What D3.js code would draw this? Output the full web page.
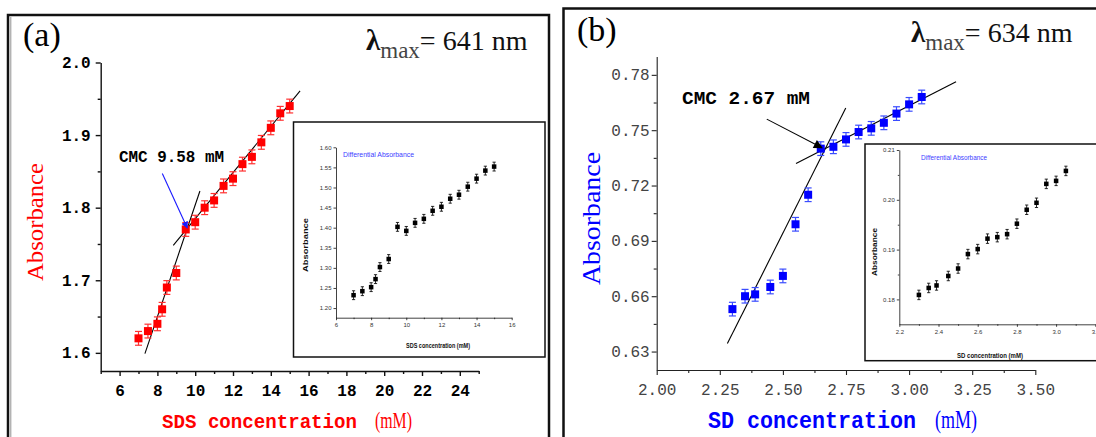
<!DOCTYPE html>
<html>
<head>
<meta charset="utf-8">
<script src="https://cdn.jsdelivr.net/npm/d3@7"></script>
<style>
body { margin: 0; background: #fff; }
svg { display: block; }
</style>
</head>
<body>
<script>
var w = 1096;
var h = 437;

// panel (a) - SDS
var sdsConc = [7, 7.5, 8, 8.25, 8.5, 9, 9.5, 10, 10.5, 11, 11.5, 12, 12.5, 13, 13.5, 14, 14.5, 15];
var sdsAbs = [1.62, 1.63, 1.64, 1.66, 1.69, 1.71, 1.77, 1.78, 1.80, 1.81, 1.83, 1.84, 1.86, 1.87, 1.89, 1.91, 1.93, 1.94];
var sdsDiff = [1.232, 1.242, 1.252, 1.272, 1.302, 1.322, 1.402, 1.392, 1.412, 1.422, 1.442, 1.452, 1.472, 1.482, 1.502, 1.522, 1.542, 1.552];
var sdsErr = 0.0095;
var sdsDiffErr = 0.011;
var sdsFitLow = [[7.34, 1.599], [10.25, 1.823]];
var sdsFitHigh = [[8.84, 1.748], [15.55, 1.961]];
var sdsArrow = [[8.26, 1.847], [9.58, 1.772]];

var sdsXTicks = [6, 8, 10, 12, 14, 16, 18, 20, 22, 24];
var sdsXMinor = [5, 7, 9, 11, 13, 15, 17, 19, 21, 23, 25];
var sdsYTicks = [1.6, 1.7, 1.8, 1.9, 2.0];
var sdsYMinor = [1.65, 1.75, 1.85, 1.95];
var sdsInXTicks = [6, 8, 10, 12, 14, 16];
var sdsInXMinor = [7, 9, 11, 13, 15];
var sdsInYTicks = [1.20, 1.25, 1.30, 1.35, 1.40, 1.45, 1.50, 1.55, 1.60];

// panel (b) - SD
var sdConc = [2.30, 2.35, 2.39, 2.45, 2.50, 2.55, 2.60, 2.65, 2.70, 2.75, 2.80, 2.85, 2.90, 2.95, 3.00, 3.05];
var sdAbs = [0.653, 0.660, 0.661, 0.665, 0.671, 0.699, 0.715, 0.740, 0.741, 0.745, 0.749, 0.751, 0.754, 0.759, 0.764, 0.768];
var sdDiff = [0.1809, 0.1823, 0.1828, 0.1847, 0.1862, 0.1891, 0.1901, 0.1922, 0.1925, 0.1931, 0.1952, 0.1980, 0.1994, 0.2032, 0.2038, 0.2058];
var sdErr = 0.0037;
var sdDiffErr = 0.00095;
var sdFitLow = [[2.28, 0.6343], [2.749, 0.762]];
var sdFitHigh = [[2.552, 0.732], [3.186, 0.7762]];
var sdArrow = [[2.436, 0.756], [2.655, 0.7405]];

var sdXTicks = [2.00, 2.25, 2.50, 2.75, 3.00, 3.25, 3.50];
var sdXMinor = [2.125, 2.375, 2.625, 2.875, 3.125, 3.375];
var sdYTicks = [0.63, 0.66, 0.69, 0.72, 0.75, 0.78];
var sdYMinor = [0.645, 0.675, 0.705, 0.735, 0.765];
var sdInXTicks = [2.2, 2.4, 2.6, 2.8, 3.0, 3.2];
var sdInXMinor = [2.3, 2.5, 2.7, 2.9, 3.1];
var sdInYTicks = [0.18, 0.19, 0.20, 0.21];
var sdInYMinor = [0.185, 0.195, 0.205];

var svg = d3.select('body').append('svg').attr('width', w).attr('height', h);

var defs = svg.append('defs');
defs.append('marker').attr('id', 'arrBlue')
    .attr('viewBox', '0 0 10 10').attr('refX', 9).attr('refY', 5)
    .attr('markerWidth', 7).attr('markerHeight', 7).attr('markerUnits', 'userSpaceOnUse')
    .attr('orient', 'auto')
    .append('path').attr('d', 'M0,0 L10,5 L0,10 z').attr('fill', '#1a1aff');
defs.append('marker').attr('id', 'arrBlack')
    .attr('viewBox', '0 0 10 10').attr('refX', 9).attr('refY', 5)
    .attr('markerWidth', 11).attr('markerHeight', 9).attr('markerUnits', 'userSpaceOnUse')
    .attr('orient', 'auto')
    .append('path').attr('d', 'M0,0 L10,5 L0,10 z').attr('fill', '#000');

// panel frames
svg.append('rect').attr('x', 8).attr('y', 15).attr('width', 541).attr('height', 440)
    .attr('fill', 'none').attr('stroke', '#111').attr('stroke-width', 2.5);
svg.append('line').attr('x1', 10.8).attr('x2', 10.8).attr('y1', 17).attr('y2', 437)
    .attr('stroke', '#777').attr('stroke-width', 0.8);
svg.append('rect').attr('x', 563.5).attr('y', 8.5).attr('width', 560).attr('height', 440)
    .attr('fill', 'none').attr('stroke', '#111').attr('stroke-width', 2.5);

function drawAxes(g, x, y, o) {
    var y0 = y.range()[0], x0 = x.range()[0];
    var gx = g.append('g').attr('transform', 'translate(0,' + y0 + ')')
        .call(d3.axisBottom(x).tickValues(o.xt).tickFormat(o.xf).tickSize(o.ts).tickSizeOuter(0).tickPadding(o.xp));
    var gy = g.append('g').attr('transform', 'translate(' + x0 + ',0)')
        .call(d3.axisLeft(y).tickValues(o.yt).tickFormat(o.yf).tickSize(o.ts).tickSizeOuter(0).tickPadding(o.yp));
    [gx, gy].forEach(function(a) {
        a.attr('font-family', o.font).attr('font-size', o.fs).attr('font-weight', o.fw);
        a.selectAll('text').attr('fill', o.tc);
        a.selectAll('path, line').attr('stroke', o.lc).attr('stroke-width', o.lw);
    });
    if (o.xm) {
        var mx = g.append('g').attr('transform', 'translate(0,' + y0 + ')')
            .call(d3.axisBottom(x).tickValues(o.xm).tickFormat('').tickSize(o.ms).tickSizeOuter(0));
        mx.select('.domain').remove();
        mx.selectAll('line').attr('stroke', o.lc).attr('stroke-width', o.lw);
    }
    if (o.ym) {
        var my = g.append('g').attr('transform', 'translate(' + x0 + ',0)')
            .call(d3.axisLeft(y).tickValues(o.ym).tickFormat('').tickSize(o.ms).tickSizeOuter(0));
        my.select('.domain').remove();
        my.selectAll('line').attr('stroke', o.lc).attr('stroke-width', o.lw);
    }
}

function drawPoints(g, xs, ys, err, x, y, o) {
    var data = xs.map(function(c, i) { return {c: c, v: ys[i]}; });
    var bars = g.selectAll(null).data(data).enter().append('g')
        .attr('stroke', o.ec).attr('stroke-width', o.ew);
    bars.append('line')
        .attr('x1', function(d) { return x(d.c); }).attr('x2', function(d) { return x(d.c); })
        .attr('y1', function(d) { return y(d.v - err); }).attr('y2', function(d) { return y(d.v + err); });
    bars.append('line')
        .attr('x1', function(d) { return x(d.c) - o.cap; }).attr('x2', function(d) { return x(d.c) + o.cap; })
        .attr('y1', function(d) { return y(d.v - err); }).attr('y2', function(d) { return y(d.v - err); });
    bars.append('line')
        .attr('x1', function(d) { return x(d.c) - o.cap; }).attr('x2', function(d) { return x(d.c) + o.cap; })
        .attr('y1', function(d) { return y(d.v + err); }).attr('y2', function(d) { return y(d.v + err); });
    g.selectAll(null).data(data).enter().append('rect')
        .attr('x', function(d) { return x(d.c) - o.size / 2; })
        .attr('y', function(d) { return y(d.v) - o.size / 2; })
        .attr('width', o.size).attr('height', o.size)
        .attr('fill', o.mc);
}

function drawLine(g, pts, x, y, color, marker) {
    var l = g.append('line')
        .attr('x1', x(pts[0][0])).attr('y1', y(pts[0][1]))
        .attr('x2', x(pts[1][0])).attr('y2', y(pts[1][1]))
        .attr('stroke', color).attr('stroke-width', 1.1);
    if (marker) l.attr('marker-end', 'url(#' + marker + ')');
}

function lambdaLabel(x, y, nm) {
    var t = svg.append('text').attr('x', x).attr('y', y)
        .attr('font-family', 'Liberation Serif').attr('fill', '#111');
    t.append('tspan').attr('font-size', 29).attr('font-weight', 'bold').text('\u03bb');
    t.append('tspan').attr('font-size', 23).attr('dy', 8).attr('fill', '#444').text('max');
    t.append('tspan').attr('font-size', 28).attr('dy', -8).text('= ' + nm + ' nm');
}

// axis title: bold mono words, then a lighter serif "(mM)"
function xTitle(words, x0, x1, u0, u1, size, color) {
    svg.append('text').attr('x', x0).attr('y', 428)
        .attr('font-family', 'Liberation Mono').attr('font-weight', 'bold').attr('font-size', size)
        .attr('fill', color).attr('textLength', x1 - x0).attr('lengthAdjust', 'spacingAndGlyphs')
        .text(words);
    svg.append('text').attr('x', u0).attr('y', 428)
        .attr('font-family', 'Liberation Serif').attr('font-size', size + 2)
        .attr('fill', color).attr('textLength', u1 - u0).attr('lengthAdjust', 'spacingAndGlyphs')
        .text('(mM)');
}

function inset(box, x, y, xs, ys, err, o) {
    svg.append('rect').attr('x', box[0]).attr('y', box[1]).attr('width', box[2]).attr('height', box[3])
        .attr('fill', '#fff').attr('stroke', '#111').attr('stroke-width', 1.5);
    var g = svg.append('g');
    drawAxes(g, x, y, {
        xt: o.xt, xm: o.xm, yt: o.yt, ym: o.ym, xf: o.xf, yf: o.yf,
        ts: 2.5, ms: 1.5, xp: 3, yp: 2, font: 'Liberation Sans', fs: 6, fw: 'normal',
        tc: '#333', lc: '#111', lw: 0.8
    });
    drawPoints(g, xs, ys, err, x, y, {ec: '#111', ew: 0.9, cap: 1.6, size: 4.5, mc: '#000'});
    svg.append('text').attr('x', o.dx).attr('y', o.dy)
        .attr('font-family', 'Liberation Sans').attr('font-size', 7).attr('fill', '#4040ff')
        .attr('textLength', o.dl).attr('lengthAdjust', 'spacingAndGlyphs')
        .text('Differential Absorbance');
    svg.append('text').attr('transform', 'translate(' + o.ax + ',' + o.ay + ') rotate(-90)')
        .attr('text-anchor', 'middle').attr('font-family', 'Liberation Sans').attr('font-weight', 'bold')
        .attr('font-size', 8).attr('fill', '#111')
        .attr('textLength', o.al).attr('lengthAdjust', 'spacingAndGlyphs')
        .text('Absorbance');
    svg.append('text').attr('x', o.tx).attr('y', o.ty).attr('text-anchor', 'middle')
        .attr('font-family', 'Liberation Sans').attr('font-weight', 'bold').attr('font-size', 6.5)
        .attr('fill', '#111').attr('textLength', o.tl).attr('lengthAdjust', 'spacingAndGlyphs')
        .text(o.title);
}

// ---------- panel (a) ----------
var xA = d3.scaleLinear().domain([5, 25]).range([100.7, 478.7]);
var yA = d3.scaleLinear().domain([1.575, 2.0]).range([371, 62.5]);
var gA = svg.append('g');

drawAxes(gA, xA, yA, {
    xt: sdsXTicks, xm: sdsXMinor, yt: sdsYTicks, ym: sdsYMinor,
    xf: d3.format('d'), yf: d3.format('.1f'),
    ts: 5, ms: 3, xp: 9, yp: 5, font: 'Liberation Mono', fs: 16, fw: 'bold',
    tc: '#000', lc: '#111', lw: 1.4
});
drawLine(gA, sdsFitLow, xA, yA, '#000');
drawLine(gA, sdsFitHigh, xA, yA, '#000');
drawPoints(gA, sdsConc, sdsAbs, sdsErr, xA, yA, {ec: '#ff3030', ew: 1.2, cap: 3.5, size: 8, mc: '#ff0000'});
drawLine(gA, sdsArrow, xA, yA, '#1a1aff', 'arrBlue');

svg.append('text').attr('x', 119).attr('y', 162)
    .attr('font-family', 'Liberation Mono').attr('font-weight', 'bold').attr('font-size', 16)
    .attr('textLength', 105).attr('lengthAdjust', 'spacingAndGlyphs')
    .text('CMC 9.58 mM');
svg.append('text').attr('x', 23).attr('y', 46)
    .attr('font-family', 'Liberation Serif').attr('font-size', 34).text('(a)');
lambdaLabel(366, 50, '641');

xTitle('SDS concentration', 162, 357, 375, 412, 21, '#ff0000');

svg.append('text').attr('transform', 'translate(43,222) rotate(-90)')
    .attr('text-anchor', 'middle').attr('font-family', 'Liberation Serif').attr('font-size', 23)
    .attr('fill', '#ff0000').attr('textLength', 118).attr('lengthAdjust', 'spacingAndGlyphs')
    .text('Absorbance');

inset([293.5, 122, 251.5, 235],
    d3.scaleLinear().domain([6, 16]).range([336, 511.7]),
    d3.scaleLinear().domain([1.176, 1.60]).range([317.7, 147.3]),
    sdsConc, sdsDiff, sdsDiffErr, {
        xt: sdsInXTicks, xm: sdsInXMinor, yt: sdsInYTicks, ym: null,
        xf: d3.format('d'), yf: d3.format('.2f'),
        dx: 343, dy: 157, dl: 71, ax: 308, ay: 245, al: 54,
        tx: 438, ty: 348, tl: 64, title: 'SDS concentration (mM)'
    });

// ---------- panel (b) ----------
var xB = d3.scaleLinear().domain([2, 3.5]).range([656.7, 1035.3]);
var yB = d3.scaleLinear().domain([0.62, 0.79]).range([370, 56.4]);
var gB = svg.append('g');

drawAxes(gB, xB, yB, {
    xt: sdXTicks, xm: sdXMinor, yt: sdYTicks, ym: sdYMinor,
    xf: d3.format('.2f'), yf: d3.format('.2f'),
    ts: 5, ms: 3, xp: 9, yp: 2, font: 'Liberation Mono', fs: 16, fw: 'normal',
    tc: '#444', lc: '#222', lw: 1.1
});
drawLine(gB, sdFitLow, xB, yB, '#000');
drawLine(gB, sdFitHigh, xB, yB, '#000');
drawPoints(gB, sdConc, sdAbs, sdErr, xB, yB, {ec: '#3a4cff', ew: 1.2, cap: 3.5, size: 8, mc: '#0000ff'});
drawLine(gB, sdArrow, xB, yB, '#000', 'arrBlack');

svg.append('text').attr('x', 682).attr('y', 104)
    .attr('font-family', 'Liberation Mono').attr('font-weight', 'bold').attr('font-size', 19)
    .attr('textLength', 128).attr('lengthAdjust', 'spacingAndGlyphs')
    .text('CMC 2.67 mM');
svg.append('text').attr('x', 577).attr('y', 41)
    .attr('font-family', 'Liberation Serif').attr('font-size', 34).text('(b)');
lambdaLabel(911, 42, '634');

xTitle('SD concentration', 708, 916, 935, 977, 24, '#0000ff');

svg.append('text').attr('transform', 'translate(600,218.5) rotate(-90)')
    .attr('text-anchor', 'middle').attr('font-family', 'Liberation Serif').attr('font-size', 26)
    .attr('fill', '#0000ff').attr('textLength', 133).attr('lengthAdjust', 'spacingAndGlyphs')
    .text('Absorbance');

inset([865, 144, 260, 216.7],
    d3.scaleLinear().domain([2.2, 3.2]).range([899.3, 1095.3]),
    d3.scaleLinear().domain([0.175, 0.21]).range([324.3, 150]),
    sdConc, sdDiff, sdDiffErr, {
        xt: sdInXTicks, xm: sdInXMinor, yt: sdInYTicks, ym: sdInYMinor,
        xf: d3.format('.1f'), yf: d3.format('.2f'),
        dx: 921, dy: 160, dl: 66, ax: 877, ay: 252, al: 48,
        tx: 990, ty: 357.5, tl: 66, title: 'SD concentration (mM)'
    });
</script>
</body>
</html>
